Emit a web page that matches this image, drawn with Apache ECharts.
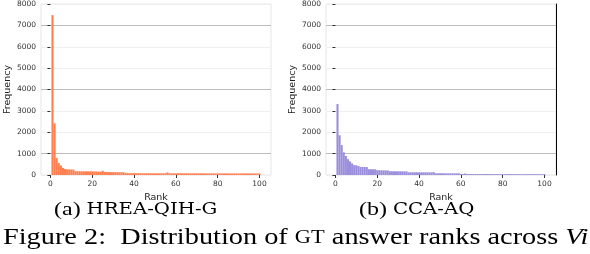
<!DOCTYPE html>
<html><head><meta charset="utf-8">
<script src="https://cdn.jsdelivr.net/npm/echarts@6/dist/echarts.min.js"></script>
<style>html,body{margin:0;padding:0;background:#fff}#c{width:590px;height:254px}</style>
</head><body><div id="c"></div>
<script>
// Rank 1..100
const ranks = Array.from({length:100},(_, i)=>i+1);
const xTicks = [0,20,40,60,80,100];
const yTicks = [0,1000,2000,3000,4000,5000,6000,7000,8000];
// (a) HREA-QIH-G
const freqA = [7480,2420,790,555,445,335,285,265,262,258,255,180,178,176,175,174,173,172,172,170,
  168,165,160,158,200,140,138,136,135,134,133,132,131,130,128,90,88,86,85,85,
  84,84,83,83,82,82,82,81,81,80,80,80,80,80,82,122,80,80,80,80,
  80,80,79,79,79,79,78,78,78,78,78,78,78,77,77,77,77,77,77,77,
  76,76,76,76,76,76,75,75,75,75,75,75,75,75,75,74,74,74,74,74];
// (b) CCA-AQ
const freqB = [3320,1860,1400,1060,890,740,635,540,460,455,420,380,378,375,370,272,270,268,266,225,
  222,220,218,216,215,178,176,175,174,173,172,172,171,170,128,127,127,126,126,125,
  125,124,124,123,123,122,135,82,81,81,80,80,80,80,79,79,79,78,78,48,
  47,70,47,46,46,46,45,45,45,45,44,44,44,44,44,43,43,43,43,43,
  42,42,42,42,42,42,41,41,41,41,41,40,40,40,40,40,40,40,40,40];

const tickFont = {fontFamily:'DejaVu Sans', fontSize:7.5, color:'#333'};
const nameFont = {fontFamily:'DejaVu Sans', fontSize:9.5, color:'#222'};
const gridCols = ['#efefef','#bdbdbd','#efefef'];

function xAx(gi){
  return {type:'value', gridIndex:gi, min:-4.5, max:105.5,
    axisLine:{show:false}, splitLine:{show:false},
    axisTick:{show:true, customValues:xTicks, length:3, lineStyle:{color:'#333'}},
    axisLabel:Object.assign({customValues:xTicks, margin:5}, tickFont),
    name:'Rank', nameLocation:'middle', nameGap:11, nameTextStyle:nameFont};
}
function yAx(gi){
  return {type:'value', gridIndex:gi, min:0, max:8000, interval:1000,
    axisLine:{show:false},
    axisTick:{show:true, length:3, lineStyle:{color:'#333'}},
    axisLabel:Object.assign({margin:5, formatter:v=>String(v)}, tickFont),
    splitLine:{show:true, lineStyle:{color:gridCols, width:1}},
    name:'Frequency', nameLocation:'middle', nameGap:26, nameTextStyle:nameFont};
}
const chart = echarts.init(document.getElementById('c'), null, {renderer:'canvas'});
chart.setOption({
  animation:false,
  grid:[
    {left:41, top:4, width:230, height:171, show:true, borderColor:'#e6e6e6', borderWidth:1},
    {left:326, top:4, width:230, height:171, show:true, borderColor:'#e6e6e6', borderWidth:1}
  ],
  xAxis:[xAx(0), xAx(1)],
  yAxis:[yAx(0), yAx(1),
    {type:'value', gridIndex:1, position:'right', min:0, max:8000, axisLine:{show:true, lineStyle:{color:'#000', width:1}},
     axisTick:{show:false}, axisLabel:{show:false}, splitLine:{show:false}}],
  series:[
    {type:'bar', xAxisIndex:0, yAxisIndex:0, barWidth:2.1, itemStyle:{color:'#ff7f50'},
     data:ranks.map((r,i)=>[r,freqA[i]])},
    {type:'bar', xAxisIndex:1, yAxisIndex:1, barWidth:2.1, itemStyle:{color:'#9b8edc'},
     data:ranks.map((r,i)=>[r,freqB[i]])}
  ],
  graphic:[
    {type:'text', x:54, y:200, scaleX:1.23, style:{text:'{p|(a) }{s|HREA-QIH-G}', rich:{
      p:{fontFamily:'Liberation Serif', fontSize:19.5, fill:'#000'},
      s:{fontFamily:'DejaVu Serif', fontSize:16, fill:'#000'}}}},
    {type:'text', x:359, y:200, scaleX:1.23, style:{text:'{p|(b) }{s|CCA-AQ}', rich:{
      p:{fontFamily:'Liberation Serif', fontSize:19.5, fill:'#000'},
      s:{fontFamily:'DejaVu Serif', fontSize:16, fill:'#000'}}}},
    {type:'text', x:3, y:226, scaleX:1.18, style:{text:'{p|Figure 2:  Distribution of }{s|GT}{p| answer ranks across }{i|Vi}', rich:{
      p:{fontFamily:'Liberation Serif', fontSize:24, fill:'#000'},
      s:{fontFamily:'Liberation Serif', fontSize:19, fill:'#000'},
      i:{fontFamily:'Liberation Serif', fontSize:24, fontStyle:'italic', fill:'#000'}}}}
  ]
});
</script></body></html>
